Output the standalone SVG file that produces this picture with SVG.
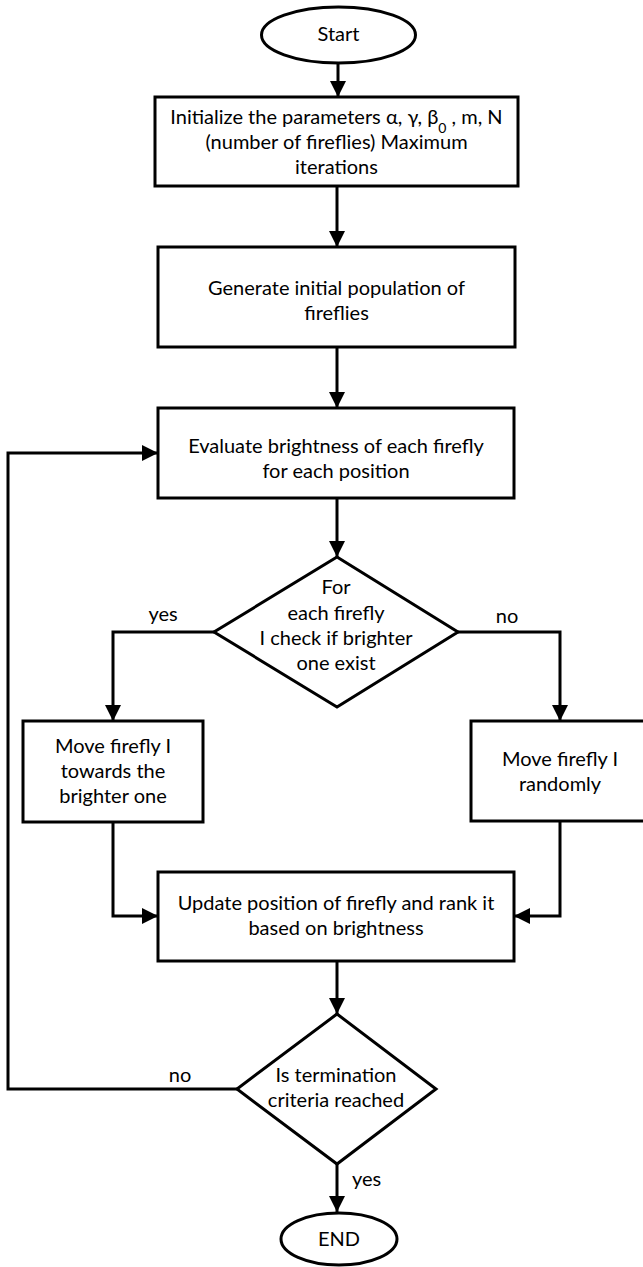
<svg xmlns="http://www.w3.org/2000/svg" width="643" height="1267" viewBox="0 0 643 1267">
  <style>
    .shape { fill: #ffffff; stroke: #000000; stroke-width: 3; }
    .wire { fill: none; stroke: #000000; stroke-width: 3; }
    .label { font-family: Lato, "Liberation Sans", sans-serif; font-size: 20px; fill: #000000; text-anchor: middle; }
    .tag { font-family: Lato, "Liberation Sans", sans-serif; font-size: 20px; fill: #000000; }
  </style>
  <defs>
    <marker id="arrow" markerUnits="userSpaceOnUse" markerWidth="17" markerHeight="17" refX="16" refY="8" orient="auto">
      <path d="M0,0 L16,8 L0,16 Z" fill="#000000"/>
    </marker>
  </defs>
  <rect width="643" height="1267" fill="#ffffff"/>

  <!-- connectors -->
  <g id="connectors">
    <path class="wire" d="M338,63 V97" marker-end="url(#arrow)"/>
    <path class="wire" d="M337,186 V247" marker-end="url(#arrow)"/>
    <path class="wire" d="M337,347 V408" marker-end="url(#arrow)"/>
    <path class="wire" d="M337,498 V557" marker-end="url(#arrow)"/>
    <path class="wire" d="M214,632 H113 V721" marker-end="url(#arrow)"/>
    <path class="wire" d="M458,632 H560 V721" marker-end="url(#arrow)"/>
    <path class="wire" d="M113,822 V916 H158" marker-end="url(#arrow)"/>
    <path class="wire" d="M560,821 V916 H514" marker-end="url(#arrow)"/>
    <path class="wire" d="M337,961 V1014" marker-end="url(#arrow)"/>
    <path class="wire" d="M337,1164 V1212" marker-end="url(#arrow)"/>
    <path class="wire" d="M237,1089 H8 V453 H158" marker-end="url(#arrow)"/>
    <text class="tag" x="163" y="621" text-anchor="middle">yes</text>
    <text class="tag" x="507" y="623" text-anchor="middle">no</text>
    <text class="tag" x="180" y="1082" text-anchor="middle">no</text>
    <text class="tag" x="352" y="1186">yes</text>
  </g>

  <g id="start">
    <ellipse class="shape" cx="338.5" cy="35" rx="77" ry="28"/>
    <text class="label" x="338.5" y="41">Start</text>
  </g>

  <g id="init">
    <rect class="shape" x="155" y="97" width="363" height="89"/>
    <text class="label" x="336.5" y="124">Initialize the parameters α, γ, β<tspan font-size="14" baseline-shift="sub">0</tspan> , m, N</text>
    <text class="label" x="336.5" y="149">(number of fireflies) Maximum</text>
    <text class="label" x="336.5" y="174">iterations</text>
  </g>

  <g id="generate">
    <rect class="shape" x="158" y="247" width="357" height="100"/>
    <text class="label" x="336.5" y="295">Generate initial population of</text>
    <text class="label" x="336.5" y="320">fireflies</text>
  </g>

  <g id="evaluate">
    <rect class="shape" x="158" y="408" width="356" height="90"/>
    <text class="label" x="336" y="453">Evaluate brightness of each firefly</text>
    <text class="label" x="336" y="478">for each position</text>
  </g>

  <g id="check">
    <polygon class="shape" points="337,557 458,632 337,707 214,632"/>
    <text class="label" x="336" y="594">For</text>
    <text class="label" x="336" y="620">each firefly</text>
    <text class="label" x="336" y="645">I check if brighter</text>
    <text class="label" x="336" y="670">one exist</text>
  </g>

  <g id="move-towards">
    <rect class="shape" x="23" y="721" width="180" height="101"/>
    <text class="label" x="113" y="753">Move firefly I</text>
    <text class="label" x="113" y="778">towards the</text>
    <text class="label" x="113" y="803">brighter one</text>
  </g>

  <g id="move-random">
    <rect class="shape" x="471" y="721" width="178" height="100"/>
    <text class="label" x="560" y="766">Move firefly I</text>
    <text class="label" x="560" y="791">randomly</text>
  </g>

  <g id="update">
    <rect class="shape" x="158" y="872" width="356" height="89"/>
    <text class="label" x="336" y="910">Update position of firefly and rank it</text>
    <text class="label" x="336" y="935">based on brightness</text>
  </g>

  <g id="terminate">
    <polygon class="shape" points="337,1014 436,1089 337,1164 237,1089"/>
    <text class="label" x="336" y="1082">Is termination</text>
    <text class="label" x="336" y="1107">criteria reached</text>
  </g>

  <g id="end">
    <ellipse class="shape" cx="339" cy="1239" rx="58" ry="26"/>
    <text class="label" x="339" y="1246">END</text>
  </g>
</svg>
